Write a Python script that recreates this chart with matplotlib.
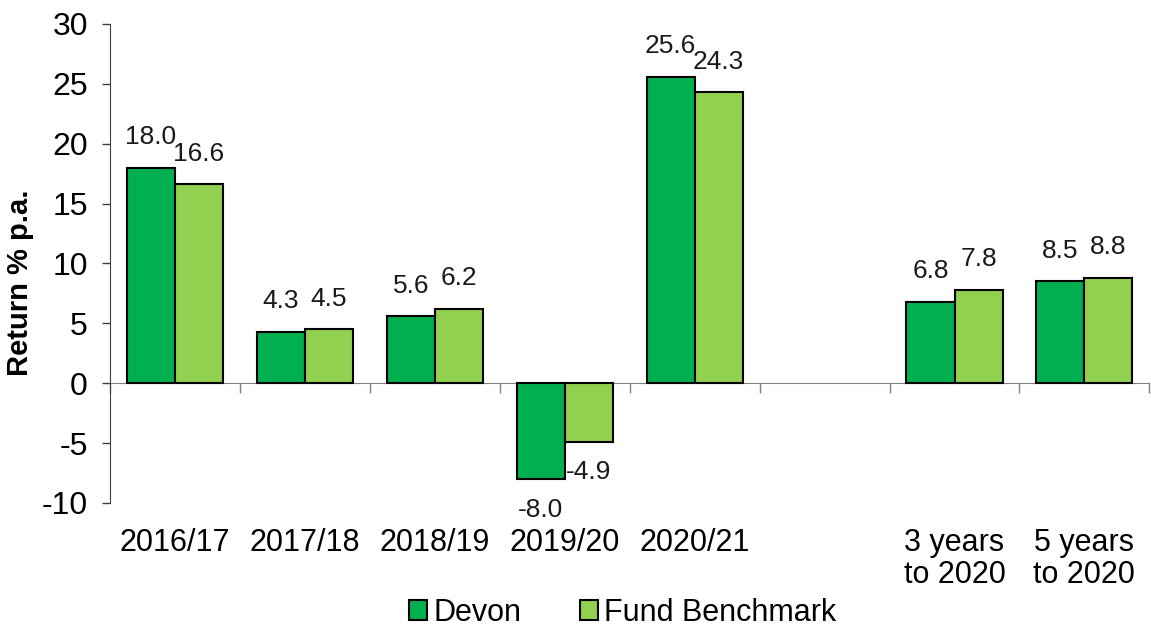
import matplotlib.pyplot as plt
import numpy as np

plt.rcParams['font.family'] = ['Liberation Sans', 'DejaVu Sans']
plt.rcParams['axes.unicode_minus'] = False

periods = ['2016/17', '2017/18', '2018/19', '2019/20', '2020/21', '',
           '3 years\nto 2020', '5 years\nto 2020']
devon = [18.0, 4.3, 5.6, -8.0, 25.6, np.nan, 6.8, 8.5]
benchmark = [16.6, 4.5, 6.2, -4.9, 24.3, np.nan, 7.8, 8.8]

DEVON_GREEN = '#00B050'
BENCH_GREEN = '#92D050'


def label_bars(ax, bars, values):
    for bar, v in zip(bars, values):
        if np.isnan(v):
            continue
        x = bar.get_x() + bar.get_width() / 2
        offset = 22 if v >= 0 else -22
        ax.annotate('%.1f' % v, (x, v), xytext=(0, offset), textcoords='offset points',
                    ha='center', va='center', fontsize=19, color='#1a1a1a')


def main():
    fig = plt.figure(figsize=(11.51, 6.3), dpi=100)
    ax = fig.add_axes([0.0956, 0.2016, 0.903, 0.7604])

    x = np.arange(len(periods))
    w = 0.37
    b1 = ax.bar(x - w / 2, devon, w, color=DEVON_GREEN, edgecolor='black', linewidth=1.5,
                label='Devon', zorder=3)
    b2 = ax.bar(x + w / 2, benchmark, w, color=BENCH_GREEN, edgecolor='black', linewidth=1.5,
                label='Fund Benchmark', zorder=3)
    label_bars(ax, b1, devon)
    label_bars(ax, b2, benchmark)

    ax.set_xlim(-0.5, len(periods) - 0.5)
    ax.set_ylim(-10, 30)
    ax.set_yticks(range(-10, 31, 5))
    ax.tick_params(axis='y', labelsize=23, length=6, width=1, pad=10, color='#404040')

    ax.set_xticks(x)
    ax.set_xticklabels(periods, fontsize=22, va='top', linespacing=1.1)
    ax.tick_params(axis='x', length=0, pad=18)

    for side in ['top', 'right', 'bottom']:
        ax.spines[side].set_visible(False)
    ax.spines['left'].set_color('#404040')

    # zero line with category separators
    zero_pos = (0 - ax.get_ylim()[0]) / (ax.get_ylim()[1] - ax.get_ylim()[0])
    sec = ax.secondary_xaxis(zero_pos)
    sec.set_xticks(np.arange(len(periods) + 1) - 0.5)
    sec.set_xticklabels([])
    sec.tick_params(length=7, width=1, color='#808080', direction='out')
    sec.spines['bottom'].set_color('#808080')

    ax.set_ylabel('Return % p.a.', fontsize=21, fontweight='bold')
    ax.yaxis.set_label_coords(-0.073, 0.46)

    fig.legend(loc='lower center', bbox_to_anchor=(0.541, -0.04), ncol=2, frameon=False,
               fontsize=22, handlelength=0.6, handleheight=0.6, handletextpad=0.2,
               columnspacing=1.9)

    fig.savefig('out.png', dpi=100)


if __name__ == '__main__':
    main()
